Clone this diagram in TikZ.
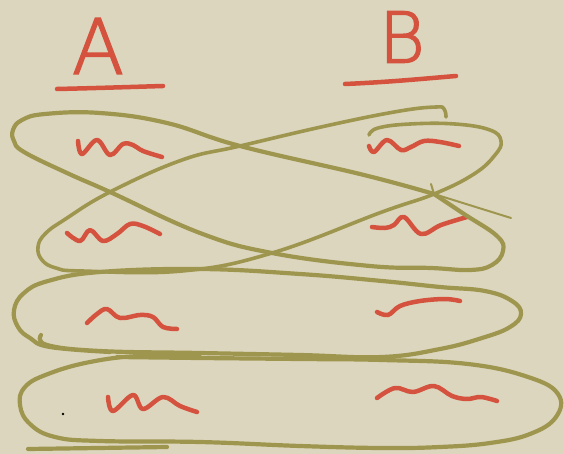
\documentclass[tikz,border=0pt]{standalone}
\usepackage{fontspec}
\newfontfamily\penfont[AutoFakeBold=2.2]{DejaVu Sans ExtraLight}
\definecolor{paper}{RGB}{220,214,190}
\definecolor{loopolive}{RGB}{158,150,78}
\definecolor{inkred}{RGB}{212,82,62}
\begin{document}
\begin{tikzpicture}[x=1pt,y=-1pt]
                    \tikzset{
                        heading/.style={text=inkred, inner sep=0pt, font=\penfont\bfseries\fontsize{76}{76}\selectfont},
                        pen/.style={draw=inkred, line width=4.5pt, line cap=round, line join=round},
                        lasso/.style={draw=loopolive, line width=4.2pt, line cap=round, line join=round},
                        tail/.style={draw=loopolive, line width=2pt, line cap=round}
                    }
                    \fill[paper] (0,0) rectangle (564,454);
                    \useasboundingbox (0,0) rectangle (564,454);

                    % headings
                    \draw node[heading] (headA) at (98,46) {A};
                    \draw node[heading, font=\penfont\bfseries\fontsize{70}{70}\selectfont] (headB) at (402,37) {B};
                    \draw[pen] (57,89) .. controls (100,88) and (130,87) .. (163,86);
                    \draw[pen] (345,84) .. controls (390,82) and (420,79) .. (456,76);

                    % squiggles, column A
                    \draw[pen] plot[smooth, tension=0.6] coordinates {(78,141) (82,154) (97,140) (110,155) (123,144) (133,145) (143,151) (162,157)};
                    \draw[pen] plot[smooth, tension=0.6] coordinates {(67,233) (80,241) (90,230) (103,241) (117,234) (130,224) (143,226) (160,234)};
                    \draw[pen] plot[smooth, tension=0.6] coordinates {(87,323) (97,314) (107,309) (120,318) (140,315) (153,317) (163,327) (177,329)};
                    \draw[pen] plot[smooth, tension=0.6] coordinates {(108,397) (113,411) (133,395) (143,409) (163,397) (180,406) (197,412)};
                    % squiggles, column B
                    \draw[pen] plot[smooth, tension=0.6] coordinates {(369,146) (374,152) (387,140) (401,150) (411,147) (424,141) (440,142) (459,146)};
                    \draw[pen] plot[smooth, tension=0.6] coordinates {(372,227) (385,228) (394,225) (404,217) (421,234) (441,225) (467,217)};
                    \draw[pen] plot[smooth, tension=0.6] coordinates {(377,312) (388,315) (400,306) (420,301) (445,299) (460,301)};
                    \draw[pen] plot[smooth, tension=0.6] coordinates {(377,398) (395,388) (413,392) (434,386) (452,396) (467,399) (481,397) (497,401)};

                    % crossed loops
                    \draw[lasso] plot[smooth, tension=0.7] coordinates {(434,194) (364,175) (240,146) (167,123) (100,113) (45,114) (22,120) (13,130) (14,141) (24,152) (67,173) (110,192) (200,233) (272,253) (370,266) (431,268) (470,270) (492,265) (503,251) (497,236) (464,214) (434,194)};
                    \draw[tail] (431,184) -- (434,194) -- (511,218);
                    \draw[lasso, line width=3.6pt] plot[smooth, tension=0.7] coordinates {(446,117) (444,109) (436,107) (400,111) (330,125) (240,146) (182,160) (110,192) (64,220) (45,234) (38,247) (42,260) (56,268) (82,271) (182,271) (272,253) (382,212) (434,194) (474,174) (495,155) (501,141) (490,130) (455,124) (410,124) (378,128) (369,135)};

                    % straight loops
                    \draw[lasso] plot[smooth, tension=0.7] coordinates {(41,335) (47,345) (100,351) (200,353) (300,355) (382,357) (440,349) (482,338) (510,327) (521,314) (512,301) (485,291) (440,287) (382,281) (300,274) (200,269) (100,272) (48,281) (24,293) (14,310) (18,327) (30,338) (50,347) (110,352)};
                    \draw[lasso] plot[smooth, tension=0.7] coordinates {(117,357) (200,358) (300,359) (382,360) (468,364) (528,377) (558,394) (556,417) (530,434) (490,443) (440,447) (382,448) (300,446) (200,442) (100,441) (55,437) (30,424) (20,405) (25,387) (48,374) (90,362) (140,356) (200,357)};
                    \draw[lasso] (28,449) -- (167,447);
                    \fill (63,414) circle (1.3);
\end{tikzpicture}
\end{document}
